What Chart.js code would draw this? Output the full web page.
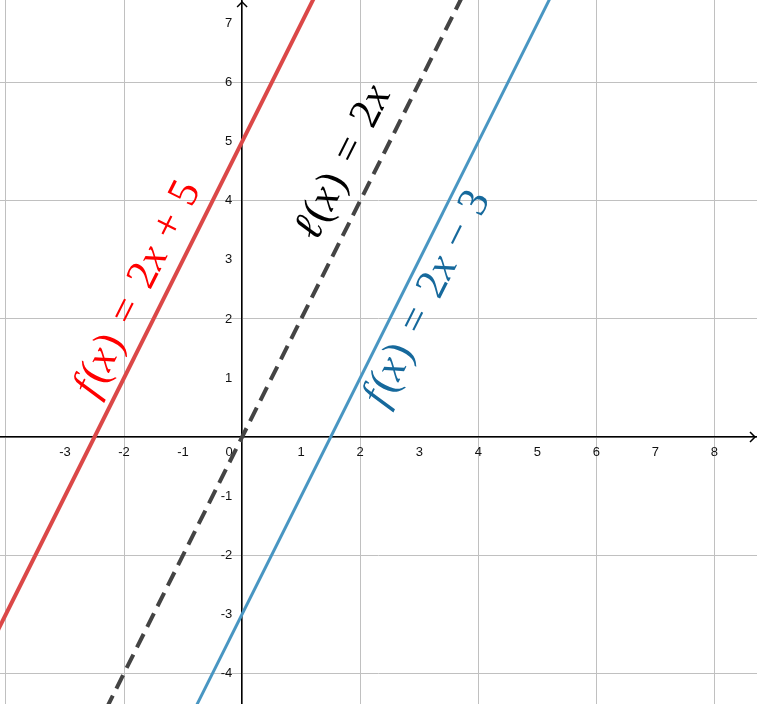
<!DOCTYPE html>
<html><head><meta charset="utf-8">
<script src="https://cdn.jsdelivr.net/npm/chart.js@4.4.1/dist/chart.umd.min.js"></script>
<style>html,body{margin:0;padding:0;background:#fff;overflow:hidden}#wrap{width:757px;height:704px;position:relative}</style>
</head><body><div id="wrap"><canvas id="c" width="757" height="704"></canvas></div>
<script>
// ----- data -----
const xRange = [-4.1, 8.72];
const yRange = [-4.52, 7.4];
const xTickValues = [-4, -3, -2, -1, 0, 1, 2, 3, 4, 5, 6, 7, 8];
const yTickValues = [-4, -3, -2, -1, 0, 1, 2, 3, 4, 5, 6, 7];
const gridStep = 2;
// points read on each line
const redX = [-5, 2];   const redY = [-5, 9];    // f(x) = 2x + 5
const blackX = [-3, 5]; const blackY = [-6, 10]; // l(x) = 2x
const blueX = [-1, 6];  const blueY = [-5, 9];   // f(x) = 2x - 3
// label anchors (data coords)
const labelX = [-1.77, 1.71, 3.13];
const labelY = [2.51, 4.65, 2.35];
const labelTokens = [
  [['f',1],[0.08],['(',0],['x',1],[0.03],[')',0],[0.38],['=',0],[0.38],['2',0],['x',1],[0.32],['+',0],[0.32],['5',0]],
  [['\u2113',1],[0.04],['(',0],['x',1],[0.03],[')',0],[0.38],['=',0],[0.38],['2',0],['x',1]],
  [['f',1],[0.08],['(',0],['x',1],[0.03],[')',0],[0.38],['=',0],[0.38],['2',0],['x',1],[0.32],['\u2212',0],[0.32],['3',0]]
];
const labelColors = ['#ff0000', '#000000', '#16699c'];

const toPts = (xs, ys) => xs.map((x, i) => ({x: x, y: ys[i]}));

const arrowPlugin = {
  id: 'arrows',
  afterDraw(chart) {
    const ctx = chart.ctx, xs = chart.scales.x, ys = chart.scales.y;
    const y0 = ys.getPixelForValue(0), x0 = xs.getPixelForValue(0);
    ctx.save();
    ctx.strokeStyle = '#000'; ctx.lineWidth = 1.5;
    const tipX = xs.right - 2;
    ctx.beginPath();
    ctx.moveTo(tipX - 5, y0 - 5); ctx.lineTo(tipX, y0); ctx.lineTo(tipX - 5, y0 + 5);
    ctx.stroke();
    const tipY = ys.top + 2;
    ctx.beginPath();
    ctx.moveTo(x0 - 5, tipY + 5); ctx.lineTo(x0, tipY); ctx.lineTo(x0 + 5, tipY + 5);
    ctx.stroke();
    ctx.restore();
  }
};

const labelPlugin = {
  id: 'eqlabels',
  afterDatasetsDraw(chart) {
    const ctx = chart.ctx, xs = chart.scales.x, ys = chart.scales.y;
    const ang = Math.atan2(ys.getPixelForValue(2) - ys.getPixelForValue(0), xs.getPixelForValue(1) - xs.getPixelForValue(0));
    const size = 43;
    const fam = '"Liberation Serif", "DejaVu Serif", serif';
    labelTokens.forEach((toks, k) => {
      const px = xs.getPixelForValue(labelX[k]);
      const py = ys.getPixelForValue(labelY[k]);
      ctx.save();
      ctx.translate(px, py);
      ctx.rotate(ang);
      ctx.fillStyle = labelColors[k];
      ctx.textBaseline = 'alphabetic';
      ctx.textAlign = 'left';
      let w = 0;
      toks.forEach(t => {
        if (t.length === 1) { w += t[0] * size; return; }
        ctx.font = (t[1] ? 'italic ' : '') + size + 'px ' + fam;
        w += ctx.measureText(t[0]).width;
      });
      let x = -w / 2;
      toks.forEach(t => {
        if (t.length === 1) { x += t[0] * size; return; }
        ctx.font = (t[1] ? 'italic ' : '') + size + 'px ' + fam;
        ctx.fillText(t[0], x, size * 0.28);
        x += ctx.measureText(t[0]).width;
      });
      ctx.restore();
    });
  }
};

const gridColor = (ctx) => (ctx.tick && Math.abs(ctx.tick.value % gridStep) < 1e-9) ? '#c0c0c0' : 'rgba(0,0,0,0)';
const zeroPad = (s) => { s.paddingTop = 0; s.paddingBottom = 0; s.paddingLeft = 0; s.paddingRight = 0; };
const tickFont = {family: '"Liberation Sans", Arial, sans-serif', size: 13};

new Chart(document.getElementById('c'), {
  type: 'scatter',
  data: {
    datasets: [
      {data: toPts(redX, redY), showLine: true, borderColor: '#db4848', borderWidth: 4, pointRadius: 0, fill: false},
      {data: toPts(blackX, blackY), showLine: true, borderColor: '#444444', borderWidth: 4, borderDash: [15, 8], pointRadius: 0, fill: false},
      {data: toPts(blueX, blueY), showLine: true, borderColor: '#4996c2', borderWidth: 3, pointRadius: 0, fill: false}
    ]
  },
  options: {
    responsive: false,
    animation: false,
    devicePixelRatio: 1,
    layout: {padding: 0},
    plugins: {legend: {display: false}, tooltip: {enabled: false}},
    scales: {
      x: {
        type: 'linear', min: xRange[0], max: xRange[1], position: {y: 0},
        afterBuildTicks: (s) => { s.ticks = xTickValues.map(v => ({value: v})); },
        afterFit: zeroPad,
        grid: {color: gridColor, lineWidth: 1, drawTicks: true, tickLength: 8, tickColor: 'rgba(0,0,0,0)'},
        border: {color: '#000', width: 1.5},
        ticks: {
          autoSkip: false, maxRotation: 0, padding: 0, color: '#111', font: tickFont,
          callback: (v) => v === xTickValues[0] ? '' : (v === 0 ? '0\u2002\u2002\u2002\u2002' : String(v))
        }
      },
      y: {
        type: 'linear', min: yRange[0], max: yRange[1], position: {x: 0},
        afterBuildTicks: (s) => { s.ticks = yTickValues.map(v => ({value: v})); },
        afterFit: zeroPad,
        grid: {color: gridColor, lineWidth: 1, drawTicks: true, tickLength: 8, tickColor: 'rgba(0,0,0,0)'},
        border: {color: '#000', width: 1.5},
        ticks: {
          autoSkip: false, padding: 0, color: '#111', font: tickFont,
          callback: (v) => v === 0 ? '' : String(v) + '\u2007\u2009'
        }
      }
    }
  },
  plugins: [labelPlugin, arrowPlugin]
});
</script>
</body></html>
